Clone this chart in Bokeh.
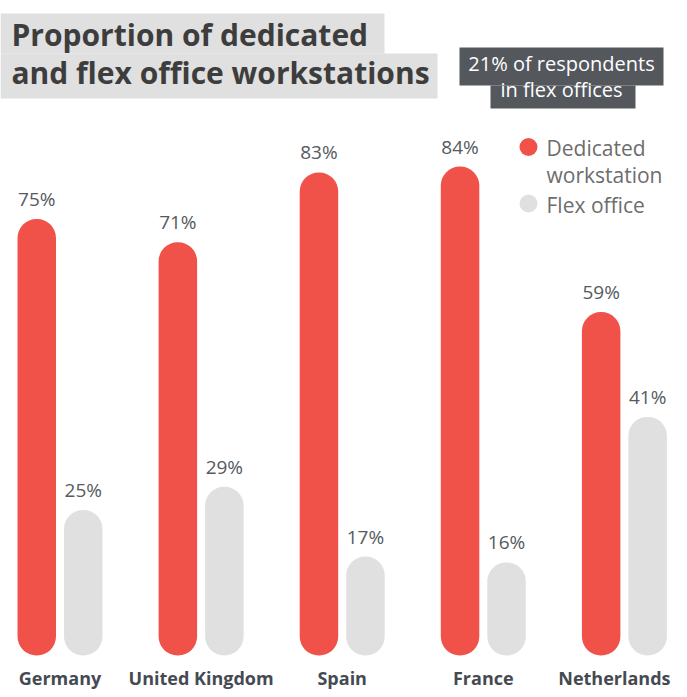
from bokeh.plotting import figure
from bokeh.models import Range1d, ColumnDataSource, Label
from bokeh.core.properties import value
from bokeh.embed import file_html
from bokeh.resources import INLINE

countries = ["Germany", "United Kingdom", "Spain", "France", "Netherlands"]
dedicated = [75, 71, 83, 84, 59]
flex = [25, 29, 17, 16, 41]
series_names = ["Dedicated\nworkstation", "Flex office"]
title_lines = ["Proportion of dedicated", "and flex office workstations"]
note_lines = ["21% of respondents", "in flex offices"]

RED = "#f0524a"
GREY = "#e0e0e0"
FONT = "Open Sans"

W, H = 671, 689
XS = 141.1          # px per group
X0 = -59.5 / XS
YS = 5.82           # px per percent
Y1 = 655 / YS

p = figure(width=W, height=H, output_backend="svg", toolbar_location=None,
           x_range=Range1d(X0, X0 + W / XS), y_range=Range1d(Y1 - H / YS, Y1),
           min_border=0, outline_line_color=None)
p.axis.visible = False
p.grid.visible = False
p.background_fill_color = "white"


def dx(px):
    return X0 + px / XS


def dy(py):
    return Y1 - py / YS


idx = list(range(len(countries)))
off = 23.25 / XS
bw = 38.5 / XS
src = ColumnDataSource(dict(
    xd=[i - off for i in idx], xf=[i + off for i in idx], xc=idx,
    d=dedicated, f=flex, name=countries,
    xo=[0, 0, 0, 0, -10],
    dl=[f"{v}%" for v in dedicated], fl=[f"{v}%" for v in flex]))

p.vbar(x="xd", top="d", bottom=0, width=bw, source=src, fill_color=RED,
       line_color=None, border_radius=19)
p.vbar(x="xf", top="f", bottom=0, width=bw, source=src, fill_color=GREY,
       line_color=None, border_radius=19)

lab_kw = dict(text_font=value(FONT), text_font_size="19px", text_color="#555a60",
              text_align="center", text_baseline="alphabetic", y_offset=-20)
p.text(x="xd", y="d", text="dl", source=src, **lab_kw)
p.text(x="xf", y="f", text="fl", source=src, **lab_kw)

p.text(x="xc", y=0, text="name", source=src, text_font=value(FONT),
       text_font_size="18px", text_font_style="bold", text_color="#454a52",
       text_align="center", text_baseline="alphabetic", y_offset=22,
       x_offset="xo")

# title boxes
p.quad(left=[dx(0), dx(0)], right=[dx(384), dx(437)],
       top=[dy(13), dy(53)], bottom=[dy(53), dy(98)],
       fill_color="#e0e0e0", line_color=None)
for txt, base in zip(title_lines, [34, 72]):
    p.add_layout(Label(x=dx(11), y=dy(base), text=txt, text_font=FONT,
                       text_font_size="30px", text_font_style="bold",
                       text_color="#3d3d3d", text_baseline="alphabetic"))

# note boxes
p.quad(left=[dx(459), dx(490)], right=[dx(663), dx(635)],
       top=[dy(47), dy(85)], bottom=[dy(85), dy(108)],
       fill_color="#54585d", line_color=None)
for txt, base in zip(note_lines, [63, 89]):
    p.add_layout(Label(x=dx(561), y=dy(base), text=txt, text_font=FONT,
                       text_font_size="20px", text_color="white",
                       text_align="center", text_baseline="alphabetic"))

# legend
p.scatter(x=[dx(528), dx(528)], y=[dy(146.5), dy(203)], size=18,
          fill_color=[RED, GREY], line_color=None, marker="circle")
leg_lines = series_names[0].split("\n") + [series_names[1]]
for txt, base in zip(leg_lines, [147, 174, 204]):
    p.add_layout(Label(x=dx(546), y=dy(base), text=txt, text_font=FONT,
                       text_font_size="21px", text_color="#6d6d6d",
                       text_baseline="alphabetic"))

open("out.html", "w").write(file_html(p, INLINE))
